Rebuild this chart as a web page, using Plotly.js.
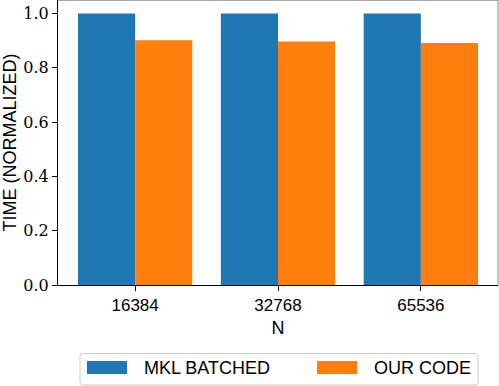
<!DOCTYPE html>
<html>
<head>
<meta charset="utf-8">
<script src="https://cdn.plot.ly/plotly-3.0.1.min.js"></script>
<style>html,body{margin:0;padding:0;background:#fff;}#chart{width:499px;height:386px;}</style>
</head>
<body>
<div id="chart"></div>
<script>
const categories = ["16384", "32768", "65536"];
const seriesNames = ["MKL BATCHED", "OUR CODE"];
const mklBatched = [1.0, 1.0, 1.0];
const ourCode = [0.902, 0.897, 0.892];
const colors = ["#1f77b4", "#ff7f0e"];

const L = 58, R = 1, T = 0, B = 101, W = 499, H = 386;
const pw = W - L - R, ph = H - T - B;
const px = v => (v - L) / pw;
const py = v => (ph + T - v) / ph;

const traces = [
  {type: "bar", x: categories, y: mklBatched, name: seriesNames[0], marker: {color: colors[0]}, showlegend: false},
  {type: "bar", x: categories, y: ourCode, name: seriesNames[1], marker: {color: colors[1]}, showlegend: false}
];

const sans = "'Liberation Sans', Arial, sans-serif";
const serif = "'DejaVu Serif', 'Liberation Serif', serif";

function roundRect(x0, y0, x1, y1, r) {
  const X = v => px(v), Y = v => py(v);
  const rx = r / pw, ry = r / ph;
  const a = X(x0), b = X(x1), top = Y(y0), bot = Y(y1);
  return `M${a + rx},${top} L${b - rx},${top} Q${b},${top} ${b},${top - ry} L${b},${bot + ry} Q${b},${bot} ${b - rx},${bot} L${a + rx},${bot} Q${a},${bot} ${a},${bot + ry} L${a},${top - ry} Q${a},${top} ${a + rx},${top} Z`;
}

const shapes = [
  {type: "line", xref: "paper", yref: "paper", x0: 0, x1: 1, y0: 1, y1: 1, line: {color: "#888", width: 1.5}},
  {type: "line", xref: "paper", yref: "paper", x0: 1, x1: 1, y0: 0, y1: 1, line: {color: "#888", width: 1}},
  {type: "path", xref: "paper", yref: "paper", path: roundRect(80, 353.5, 478, 385, 3), line: {color: "#cccccc", width: 1}, fillcolor: "rgba(255,255,255,0.8)"},
  {type: "rect", xref: "paper", yref: "paper", x0: px(87), x1: px(127), y0: py(374), y1: py(361), line: {width: 0}, fillcolor: colors[0]},
  {type: "rect", xref: "paper", yref: "paper", x0: px(317), x1: px(357), y0: py(374), y1: py(361), line: {width: 0}, fillcolor: colors[1]}
];

const annotations = [
  {xref: "paper", yref: "paper", x: px(142), y: py(367.5), xanchor: "left", yanchor: "middle", text: seriesNames[0], showarrow: false, font: {family: sans, size: 18, color: "#000"}},
  {xref: "paper", yref: "paper", x: px(372), y: py(367.5), xanchor: "left", yanchor: "middle", text: seriesNames[1], showarrow: false, font: {family: sans, size: 18, color: "#000"}}
];

const layout = {
  width: W, height: H,
  margin: {l: L, r: R, t: T, b: B, pad: 0},
  paper_bgcolor: "#fff", plot_bgcolor: "#fff",
  barmode: "group", bargap: 0.2, bargroupgap: 0,
  showlegend: false,
  xaxis: {
    type: "category", range: [-0.54, 2.54],
    showline: true, linecolor: "#000", linewidth: 1,
    ticks: "outside", ticklen: 5, tickcolor: "#000",
    showgrid: false, zeroline: false,
    tickfont: {family: sans, size: 17, color: "#000"},
    title: {text: "N", font: {family: sans, size: 18, color: "#000"}, standoff: 6},
    automargin: false, fixedrange: true
  },
  yaxis: {
    range: [0, 1.05], dtick: 0.2, tick0: 0, tickformat: ".1f",
    showline: true, linecolor: "#000", linewidth: 1,
    ticks: "outside", ticklen: 5, tickcolor: "#000",
    showgrid: false, zeroline: false,
    tickfont: {family: serif, size: 16, color: "#000"},
    title: {text: "TIME (NORMALIZED)", font: {family: sans, size: 18, color: "#000"}, standoff: 6},
    automargin: false, fixedrange: true
  },
  shapes: shapes,
  annotations: annotations
};

Plotly.newPlot("chart", traces, layout, {staticPlot: true, displayModeBar: false});
</script>
</body>
</html>
